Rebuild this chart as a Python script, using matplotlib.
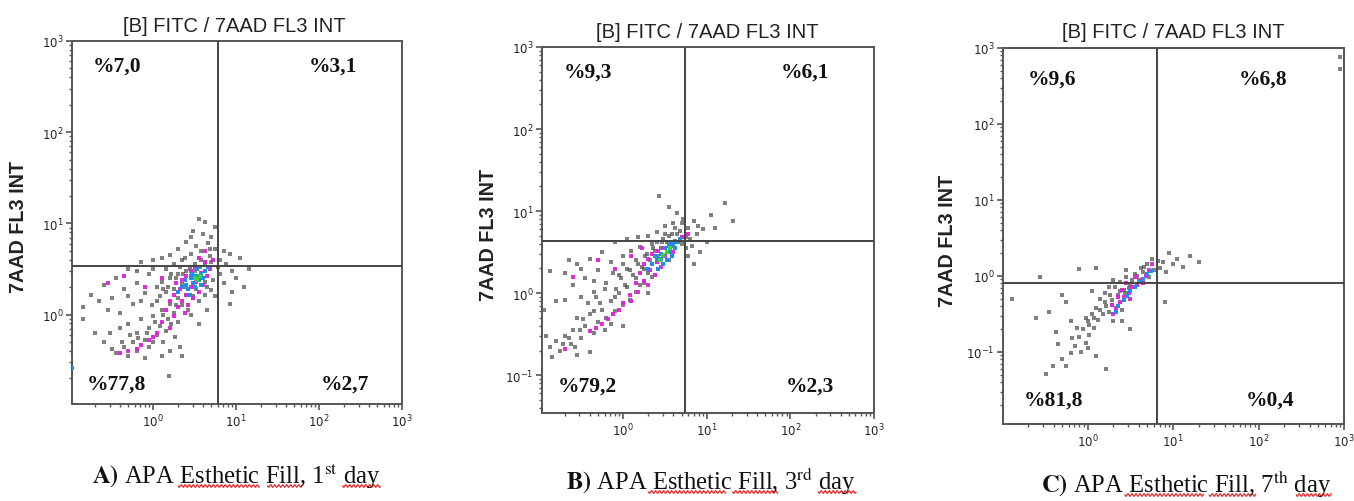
import numpy as np
import matplotlib
matplotlib.use("Agg")
import matplotlib.pyplot as plt
from matplotlib.lines import Line2D

# ---------------- data (log10 units of FITC / 7AAD FL3 INT) ----------------
panel_titles = ["[B] FITC / 7AAD FL3 INT"] * 3
captions = [r"$\bf{A)}$ APA Esthetic Fill, 1$^{\rm st}$ day",
            r"$\bf{B)}$ APA Esthetic Fill, 3$^{\rm rd}$ day",
            r"$\bf{C)}$ APA Esthetic Fill, 7$^{\rm th}$ day"]
quadrant_labels = [["%7,0", "%3,1", "%77,8", "%2,7"],
                   ["%9,3", "%6,1", "%79,2", "%2,3"],
                   ["%9,6", "%6,8", "%81,8", "%0,4"]]
# quadrant gates (FITC, 7AAD)
gate_x = [5.96, 5.5, 6.5]
gate_y = [3.45, 4.3, 0.81]
# axis limits as log10 exponents
xlims_log = [(-0.98, 3.0), (-0.97, 3.0), (-0.99, 3.0)]
ylims_log = [(-0.98, 3.0), (-1.46, 3.0), (-1.95, 3.0)]

# ---- Panel A events ----
a_gray = [(0.55,1.05),(0.62,1.02),(0.48,0.92),(0.60,0.88),(0.70,0.85),(0.40,0.80),(0.66,0.78),(0.52,0.75),
          (0.75,0.72),(0.85,0.70),(0.30,0.72),(0.58,0.70),(0.92,0.66),(0.45,0.66),(0.20,0.65),(0.10,0.62),
          (0.68,0.64),(0.80,0.60),(1.05,0.62),(0.35,0.60),(0.00,0.60),(-0.15,0.58),(0.62,0.58),(0.88,0.56),
          (0.25,0.55),(0.50,0.55),(1.15,0.50),(0.95,0.48),(0.15,0.50),(-0.30,0.50),(0.40,0.48),(0.80,0.45),
          (1.00,0.40),(-0.05,0.45),(0.30,0.44),(-0.45,0.40),(0.20,0.40),(0.85,0.35),(0.10,0.36),(-0.20,0.35),
          (0.35,0.34),(-0.60,0.32),(0.05,0.30),(0.25,0.28),(-0.35,0.28),(0.70,0.27),(0.15,0.25),(-0.75,0.22),
          (-0.10,0.24),(0.40,0.22),(0.30,0.18),(-0.50,0.18),(0.05,0.15),(0.20,0.12),(-0.25,0.12),(0.92,0.12),
          (0.35,0.10),(-0.85,0.08),(0.10,0.05),(0.25,0.02),(-0.40,0.02),(0.00,-0.02),(0.18,-0.05),(-0.15,-0.05),
          (0.30,-0.08),(0.08,-0.12),(-0.30,-0.10),(-0.05,-0.15),(0.15,-0.18),(-0.70,-0.20),(-0.20,-0.20),
          (0.05,-0.22),(-0.10,-0.28),(0.12,-0.30),(-0.25,-0.30),(-0.35,-0.35),(-0.05,-0.35),(0.20,-0.40),
          (-0.20,-0.40),(-0.45,-0.42),(-0.30,-0.45),(0.10,-0.45),(0.35,-0.45),(-0.10,-0.48),(0.19,-0.67),
          (-0.85,-0.05),(-0.60,-0.30),(0.65,0.05),(0.55,-0.10),(0.75,0.20),(0.45,0.42),(0.58,0.40),
          (0.38,0.30),(0.52,0.28),(0.62,0.36),(0.48,0.20),(0.28,0.10),(0.42,0.05),(0.22,-0.10),(0.00,-0.30),
          (0.50,0.48),(0.56,0.52),(0.44,0.50),(0.62,0.54),(0.70,0.58),(0.36,0.45),(0.28,0.40),(0.18,0.30),
          (0.08,0.20),(-0.02,0.10),(0.12,0.00),(0.02,-0.08),(-0.08,-0.20),(-0.18,-0.26),(-0.28,-0.22),
          (-0.38,-0.30),(-0.50,-0.38),(-0.15,0.15),(-0.30,0.20),(-0.55,0.05),(-0.65,0.15),(0.72,0.38),
          (0.78,0.52),(0.68,0.72),(0.74,0.96),(0.45,0.85),(0.38,0.62),(0.55,0.15),(0.62,0.22),(0.46,0.00),
          (0.58,0.60),(0.65,0.30),(0.32,0.52),(0.22,0.45),(0.12,0.28),(-0.40,-0.15),(-0.52,-0.20),
          (0.26,-0.25),(0.32,-0.35),(0.00,0.50),(-0.20,0.48),(1.10,0.30),(0.95,0.25)]
a_magenta = [(0.55,0.62),(0.62,0.58),(0.50,0.52),(0.68,0.50),(0.45,0.48),(0.58,0.46),(0.40,0.42),(0.65,0.42),
             (0.35,0.38),(0.52,0.36),(0.28,0.35),(0.60,0.32),(0.45,0.30),(0.32,0.28),(0.55,0.25),(0.40,0.22),
             (0.25,0.22),(0.48,0.18),(0.35,0.15),(0.20,0.15),(0.42,0.10),(0.30,0.08),(0.15,0.05),(0.38,0.02),
             (0.25,-0.02),(0.10,-0.08),(0.20,-0.15),(0.05,-0.20),(-0.05,-0.28),(-0.15,-0.33),(-0.30,-0.40),
             (-0.40,-0.42),(-0.20,-0.38),(0.00,-0.25),(-0.55,0.35),(-0.35,0.42),(-0.10,0.30),(0.10,0.40),
             (0.72,0.60),(0.62,0.70)]
a_blue = [(0.45,0.40),(0.52,0.42),(0.58,0.45),(0.48,0.35),(0.40,0.33),(0.55,0.38),(0.62,0.48),(0.42,0.28),
          (0.50,0.30),(0.35,0.30),(0.60,0.40),(0.47,0.45),(0.53,0.50),(0.38,0.38),(0.44,0.22),(0.66,0.52),
          (0.30,0.25),(0.57,0.33),(-0.98,-0.59)]
a_green = [(0.53,0.38),(0.50,0.40),(0.56,0.42)]

# ---- Panel B events ----
b_gray = [(0.43,1.18),(0.55,1.05),(1.22,1.10),(1.31,0.88),(1.05,0.95),(0.65,0.98),(0.72,0.90),(0.60,0.85),
          (0.85,0.88),(0.50,0.82),(0.78,0.80),(0.95,0.78),(0.68,0.76),(0.40,0.75),(0.88,0.72),(0.58,0.72),
          (0.30,0.70),(0.75,0.68),(0.18,0.68),(0.05,0.66),(1.00,0.62),(0.48,0.66),(0.62,0.64),(-0.10,0.62),
          (0.82,0.58),(0.35,0.60),(0.20,0.56),(0.92,0.50),(0.10,0.52),(-0.25,0.50),(0.78,0.45),(0.28,0.48),
          (0.00,0.45),(-0.40,0.42),(0.15,0.40),(0.85,0.35),(-0.15,0.38),(0.22,0.32),(-0.55,0.35),(0.05,0.30),
          (-0.30,0.28),(0.30,0.25),(-0.70,0.25),(-0.05,0.22),(0.15,0.18),(-0.45,0.18),(0.25,0.12),(-0.88,0.27),
          (-0.20,0.12),(0.05,0.08),(-0.60,0.10),(0.15,0.02),(-0.35,0.02),(-0.05,0.00),(0.08,-0.08),(-0.50,-0.05),
          (-0.15,-0.10),(0.00,-0.15),(-0.80,-0.10),(-0.25,-0.20),(-0.10,-0.22),(-0.40,-0.25),(-0.20,-0.30),
          (-0.55,-0.30),(-0.30,-0.35),(-0.15,-0.38),(-0.45,-0.40),(-0.60,-0.45),(-0.35,-0.48),(-0.70,-0.52),
          (-0.50,-0.55),(-0.80,-0.58),(-0.62,-0.62),(-0.88,-0.65),(-0.75,-0.70),(-0.55,-0.75),(-0.85,-0.78),
          (-0.40,-0.72),(0.00,-0.40),(0.30,0.00),(-0.95,-0.20),(-0.70,-0.08),(0.45,0.55),(0.52,0.62),
          (0.38,0.52),(0.60,0.58),(0.32,0.40),(0.42,0.45),(0.25,0.30),(0.12,0.22),(-0.08,0.05),(-0.28,-0.12),
          (0.55,0.70),(0.65,0.72),(0.70,0.60),(0.46,0.62),(0.36,0.55),(0.26,0.45),(0.18,0.35),(0.08,0.28),
          (-0.02,0.18),(0.00,0.35),(-0.12,0.25),(-0.22,0.05),(-0.32,-0.05),(-0.42,-0.12),(-0.10,-0.05),
          (0.02,0.10),(-0.35,-0.22),(-0.48,-0.32),(-0.52,-0.45),(-0.65,-0.55),(-0.72,-0.62),(-0.92,-0.52),
          (-0.58,-0.65),(0.75,0.55),(0.80,0.66),(0.90,0.82),(1.10,0.80),(0.62,0.80),(0.50,0.72),(0.70,0.85),
          (-0.50,0.30),(-0.65,0.40),(-0.35,0.15),(0.20,0.10),(0.35,0.20),(-0.22,-0.45),(0.40,0.62),(0.55,0.40)]
b_magenta = [(0.70,0.68),(0.62,0.62),(0.55,0.58),(0.48,0.55),(0.42,0.52),(0.35,0.48),(0.60,0.50),(0.50,0.45),
             (0.30,0.42),(0.40,0.38),(0.25,0.35),(0.45,0.32),(0.32,0.28),(0.20,0.25),(0.38,0.22),(0.25,0.15),
             (0.15,0.12),(0.30,0.10),(0.18,0.02),(0.08,-0.02),(0.10,-0.10),(0.00,-0.12),(-0.05,-0.20),
             (-0.12,-0.25),(-0.18,-0.32),(-0.25,-0.38),(-0.32,-0.42),(-0.40,-0.46),(-0.70,-0.68),(-0.30,0.40),
             (-0.60,0.20),(-0.10,0.30),(0.10,0.45),(0.78,0.72),(0.22,0.55)]
b_blue = [(0.50,0.55),(0.55,0.50),(0.45,0.48),(0.60,0.60),(0.40,0.42),(0.52,0.40),(0.58,0.45),(0.35,0.35),
          (0.62,0.55),(0.48,0.35),(0.42,0.30),(0.66,0.62),(0.38,0.45),(0.55,0.60),(0.30,0.30),(0.68,0.66),
          (0.45,0.42)]
b_green = [(0.52,0.50),(0.48,0.46),(0.56,0.55),(0.44,0.40)]

# ---- Panel C events ----
c_gray = [(1.20,0.26),(1.05,0.22),(0.95,0.30),(0.88,0.18),(1.12,0.12),(0.82,0.20),(0.70,0.15),(0.78,0.08),
          (0.92,0.05),(1.30,0.18),(0.65,0.05),(0.55,0.02),(0.60,-0.05),(0.45,-0.02),(0.50,-0.12),(0.38,-0.08),
          (0.30,-0.05),(0.42,-0.18),(0.25,-0.15),(0.35,-0.25),(0.20,-0.22),(0.28,-0.32),(0.15,-0.30),
          (0.22,-0.40),(0.10,-0.42),(0.18,-0.50),(0.05,-0.50),(0.12,-0.58),(0.00,-0.60),(0.08,-0.68),
          (-0.05,-0.70),(0.02,-0.78),(-0.10,-0.80),(-0.02,-0.88),(-0.15,-0.92),(-0.08,-1.00),(-0.20,-1.02),
          (-0.30,-1.10),(-0.40,-1.18),(-0.49,-1.29),(0.21,-1.22),(0.10,-1.05),(-0.56,-0.02),(-0.10,0.09),
          (-0.88,-0.30),(-0.45,-0.47),(-0.37,-0.74),(-0.25,-0.35),(-0.60,-0.55),(0.40,-0.45),(0.50,-0.70),
          (0.90,-0.35),(0.30,-0.60),(-0.30,-0.25),(0.05,-0.20),(0.10,0.10),(0.62,0.10),(0.72,-0.02),
          (2.95,2.88),(2.95,2.72),(-0.20,-0.60),
          (0.58,0.00),(0.52,-0.06),(0.48,-0.16),(0.44,-0.22),(0.38,-0.20),(0.32,-0.15),(0.26,-0.25),
          (0.20,-0.35),(0.15,-0.45),(0.08,-0.55),(0.02,-0.65),(-0.02,-0.55),(-0.12,-0.68),(-0.18,-0.82),
          (0.00,-0.95),(0.66,0.12),(0.75,0.22),(0.85,0.10),(1.00,0.15),(0.45,0.08),(-0.35,-0.90),
          (-0.25,-1.18),(0.40,-0.60),(0.25,-0.48)]
c_magenta = [(0.72,0.08),(0.68,0.00),(0.62,-0.05),(0.58,-0.12),(0.52,-0.15),(0.48,-0.22),(0.42,-0.28),
             (0.38,-0.35),(0.33,-0.42),(0.30,-0.50),(0.55,-0.02),(0.45,-0.10),(0.40,-0.18),(0.65,-0.10),
             (0.35,-0.28),(0.28,-0.38),(0.75,0.15),(0.50,-0.30)]
c_blue = [(0.70,0.02),(0.65,-0.04),(0.60,-0.08),(0.56,-0.14),(0.50,-0.20),(0.46,-0.26),(0.42,-0.32),
          (0.36,-0.40),(0.33,-0.48),(0.74,0.06)]
c_green = []

events = [(a_gray, a_magenta, a_blue, a_green),
          (b_gray, b_magenta, b_blue, b_green),
          (c_gray, c_magenta, c_blue, c_green)]

# ---------------- layout / style ----------------
W, H = 1354, 502
fig = plt.figure(figsize=(W / 100, H / 100), dpi=100)

axes_px = [(72, 42, 402, 405), (542, 48, 874, 414), (1003, 49, 1344, 425)]  # left, top, right, bottom
title_px = [(234, 26), (707, 33), (1173, 33)]
caption_px = [(236, 475), (711, 481), (1186, 484)]
qlabel_pos = [[(0.136, 0.931), (0.79, 0.931), (0.136, 0.055), (0.827, 0.055)],
              [(0.139, 0.934), (0.792, 0.934), (0.136, 0.074), (0.807, 0.074)],
              [(0.144, 0.918), (0.762, 0.918), (0.147, 0.066), (0.783, 0.066)]]
# spell-check underline spans as fractions of caption width
squiggle_frac = [[(0.30, 0.58), (0.61, 0.73), (0.87, 1.0)],
                 [(0.285, 0.55), (0.575, 0.73), (0.87, 1.0)],
                 [(0.29, 0.56), (0.58, 0.74), (0.88, 1.0)]]
dot_colors = ["#4a4a4a", "#e020d8", "#1e8fe6", "#3fcf3f"]
dot_sizes = [7, 7.5, 8, 8]
dot_alpha = [0.7, 0.95, 1.0, 1.0]
edge_col = "#555555"
sans = ["Liberation Sans", "DejaVu Sans"]

cap_texts = []
for i in range(3):
    l, t, r, b = axes_px[i]
    ax = fig.add_axes([l / W, 1 - b / H, (r - l) / W, (b - t) / H])
    ax.set_xscale("log")
    ax.set_yscale("log")
    for k, pts in enumerate(events[i]):
        if not pts:
            continue
        arr = np.array(pts)
        ax.scatter(10 ** arr[:, 0], 10 ** arr[:, 1], s=dot_sizes[k], c=dot_colors[k],
                   marker="s", linewidths=0, alpha=dot_alpha[k], zorder=2 + k)
    ax.set_xlim(10 ** xlims_log[i][0], 10 ** xlims_log[i][1])
    ax.set_ylim(10 ** ylims_log[i][0], 10 ** ylims_log[i][1])
    ax.axvline(gate_x[i], color="#444444", lw=1.4, zorder=10)
    ax.axhline(gate_y[i], color="#444444", lw=1.4, zorder=10)
    for s in ax.spines.values():
        s.set_color(edge_col)
        s.set_linewidth(1.4)
    ax.xaxis.set_major_locator(matplotlib.ticker.LogLocator(base=10, numticks=10))
    ax.yaxis.set_major_locator(matplotlib.ticker.LogLocator(base=10, numticks=10))
    ax.xaxis.set_minor_locator(matplotlib.ticker.LogLocator(base=10, subs=np.arange(2, 10), numticks=20))
    ax.yaxis.set_minor_locator(matplotlib.ticker.LogLocator(base=10, subs=np.arange(2, 10), numticks=20))
    ax.yaxis.set_minor_formatter(matplotlib.ticker.NullFormatter())
    ax.xaxis.set_minor_formatter(matplotlib.ticker.NullFormatter())
    ax.tick_params(which="major", direction="out", length=4, width=1.2, color=edge_col,
                   labelsize=8.5, labelcolor="#222222", pad=2)
    ax.tick_params(which="minor", direction="out", length=2.5, width=1.0, color=edge_col)
    ax.set_ylabel("7AAD FL3 INT", family=sans, fontweight="bold", fontsize=14.2, color="#222222")
    ax.yaxis.set_label_coords(-0.134, 0.49)
    for j, lab in enumerate(quadrant_labels[i]):
        x, y = qlabel_pos[i][j]
        ax.text(x, y, lab, transform=ax.transAxes, ha="center", va="center",
                family=["Liberation Serif", "DejaVu Serif"], fontweight="bold", fontsize=15.5,
                color="#111111", zorder=12)
    tx, ty = title_px[i]
    fig.text(tx / W, 1 - ty / H, panel_titles[i], ha="center", va="center",
             family=sans, fontsize=14.5, color="#222222")
    cx, cy = caption_px[i]
    ct = fig.text(cx / W, 1 - cy / H, captions[i], ha="center", va="center",
                  family=["Liberation Serif", "DejaVu Serif"], math_fontfamily="stix",
                  fontsize=17.7, color="#111111")
    cap_texts.append(ct)

# red spell-check wavy underlines below caption words
fig.canvas.draw()
renderer = fig.canvas.get_renderer()
for i, ct in enumerate(cap_texts):
    bb = ct.get_window_extent(renderer)
    ybase = caption_px[i][1] + 12
    for f0, f1 in squiggle_frac[i]:
        x0 = bb.x0 + f0 * bb.width
        x1 = bb.x0 + f1 * bb.width
        xs = np.linspace(x0, x1, int((x1 - x0) * 2) + 2)
        ys = ybase + 1.3 * np.sin((xs - x0) * 2 * np.pi / 4.0)
        fig.add_artist(Line2D(xs / W, 1 - ys / H, transform=fig.transFigure,
                              color="#e03030", lw=0.9))

fig.savefig("out.png", dpi=100)
